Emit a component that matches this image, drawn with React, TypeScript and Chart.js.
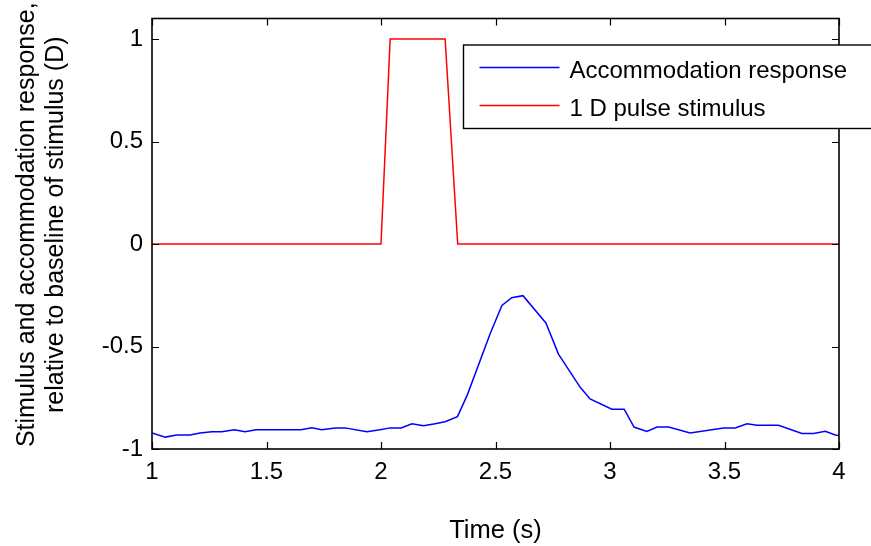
import React, { useEffect, useRef } from 'react';
import { Chart, registerables } from 'chart.js';

Chart.register(...registerables);

const FONT = '"Liberation Sans", Arial, Helvetica, sans-serif';

// Accommodation response (time in s, value in D)
const responseTime = [
  1.0, 1.058, 1.108, 1.166, 1.21, 1.261, 1.305, 1.36, 1.406, 1.454,
  1.65, 1.698, 1.741, 1.8, 1.843, 1.938, 1.996, 2.04, 2.088, 2.135,
  2.186, 2.236, 2.28, 2.334, 2.377, 2.477, 2.528, 2.571, 2.62, 2.72,
  2.775, 2.87, 2.913, 3.008, 3.062, 3.105, 3.161, 3.205, 3.256, 3.35,
  3.496, 3.547, 3.598, 3.642, 3.736, 3.838, 3.889, 3.94, 3.984, 4.0,
];
const responseValue = [
  -0.922, -0.942, -0.932, -0.932, -0.922, -0.916, -0.916, -0.906, -0.916, -0.906,
  -0.906, -0.897, -0.906, -0.897, -0.897, -0.916, -0.906, -0.897, -0.897, -0.877,
  -0.887, -0.877, -0.867, -0.842, -0.736, -0.437, -0.3, -0.262, -0.252, -0.385,
  -0.537, -0.699, -0.756, -0.806, -0.806, -0.893, -0.914, -0.893, -0.893, -0.922,
  -0.897, -0.897, -0.877, -0.884, -0.884, -0.924, -0.924, -0.914, -0.932, -0.934,
];

// 1 D pulse stimulus
const stimulusTime = [1.0, 2.0, 2.04, 2.28, 2.335, 4.0];
const stimulusValue = [0, 0, 1, 1, 0, 0];

const xTicks = [1, 1.5, 2, 2.5, 3, 3.5, 4];
const yTicks = [-1, -0.5, 0, 0.5, 1];
const seriesLabels = ['Accommodation response', '1 D pulse stimulus'];
const seriesColors = ['#0000ff', '#ff0000'];
const xTitle = 'Time (s)';
const yTitle = ['Stimulus and accommodation response,', 'relative to baseline of stimulus (D)'];

const framePlugin = {
  id: 'matlabFrame',
  afterDatasetsDraw(chart: any) {
    const { ctx, chartArea: a, scales } = chart;
    ctx.save();
    ctx.strokeStyle = '#000';
    ctx.lineWidth = 1.2;
    const L = 7;
    ctx.beginPath();
    for (const v of xTicks) {
      const px = Math.round(scales.x.getPixelForValue(v)) + 0.5;
      ctx.moveTo(px, a.bottom);
      ctx.lineTo(px, a.bottom - L);
      ctx.moveTo(px, a.top);
      ctx.lineTo(px, a.top + L);
    }
    for (const v of yTicks) {
      const py = Math.round(scales.y.getPixelForValue(v)) + 0.5;
      ctx.moveTo(a.left, py);
      ctx.lineTo(a.left + L, py);
      ctx.moveTo(a.right, py);
      ctx.lineTo(a.right - L, py);
    }
    ctx.stroke();
    ctx.lineWidth = 1.6;
    ctx.strokeRect(a.left, a.top, a.right - a.left, a.bottom - a.top);

    // legend
    const bx = a.left + 311.5;
    const by = a.top + 26.5;
    const bw = 420;
    const bh = 83.5;
    ctx.fillStyle = '#fff';
    ctx.fillRect(bx, by, bw, bh);
    ctx.lineWidth = 1.4;
    ctx.strokeRect(bx, by, bw, bh);
    ctx.font = `24px ${FONT}`;
    ctx.textAlign = 'left';
    ctx.textBaseline = 'alphabetic';
    seriesLabels.forEach((lab, i) => {
      const ly = by + 22.5 + i * 38;
      ctx.strokeStyle = seriesColors[i];
      ctx.lineWidth = 1.4;
      ctx.beginPath();
      ctx.moveTo(bx + 16, ly);
      ctx.lineTo(bx + 96, ly);
      ctx.stroke();
      ctx.fillStyle = '#000';
      ctx.fillText(lab, bx + 106, ly + 10);
    });

    // y-axis title (two rotated lines)
    ctx.font = `25px ${FONT}`;
    ctx.fillStyle = '#000';
    ctx.textAlign = 'center';
    ctx.textBaseline = 'middle';
    const cy = (a.top + a.bottom) / 2 - 9;
    yTitle.forEach((line, i) => {
      ctx.save();
      ctx.translate(27 + i * 29, cy);
      ctx.rotate(-Math.PI / 2);
      ctx.fillText(line, 0, 0);
      ctx.restore();
    });
    ctx.restore();
  },
};

export default function App() {
  const ref = useRef<HTMLCanvasElement | null>(null);

  useEffect(() => {
    if (!ref.current) return;
    const chart = new Chart(ref.current, {
      type: 'line',
      data: {
        datasets: [
          {
            label: seriesLabels[0],
            data: responseTime.map((t, i) => ({ x: t, y: responseValue[i] })),
            borderColor: seriesColors[0],
            borderWidth: 1.5,
            pointRadius: 0,
            tension: 0,
            fill: false,
          },
          {
            label: seriesLabels[1],
            data: stimulusTime.map((t, i) => ({ x: t, y: stimulusValue[i] })),
            borderColor: seriesColors[1],
            borderWidth: 1.5,
            pointRadius: 0,
            tension: 0,
            fill: false,
          },
        ],
      },
      options: {
        responsive: false,
        animation: false,
        devicePixelRatio: 1,
        layout: { padding: { top: 18.5, right: 32, bottom: 0, left: 0 } },
        plugins: {
          legend: { display: false },
          tooltip: { enabled: false },
        },
        scales: {
          x: {
            type: 'linear',
            min: 1,
            max: 4,
            grid: { display: false, drawTicks: false },
            border: { display: false },
            afterBuildTicks: (s: any) => {
              s.ticks = xTicks.map((v) => ({ value: v }));
            },
            afterFit: (s: any) => {
              s.height = 97;
              s.paddingLeft = 0;
              s.paddingRight = 0;
            },
            ticks: {
              autoSkip: false,
              maxRotation: 0,
              padding: 9,
              color: '#000',
              font: { family: FONT, size: 24 },
              callback: (v: any) => String(v),
            },
            title: {
              display: true,
              text: xTitle,
              color: '#000',
              font: { family: FONT, size: 25.5, lineHeight: 1.2 },
              padding: { top: 0, bottom: 0 },
            },
          },
          y: {
            type: 'linear',
            min: -1,
            max: 1.1,
            grid: { display: false, drawTicks: false },
            border: { display: false },
            afterBuildTicks: (s: any) => {
              s.ticks = yTicks.map((v) => ({ value: v }));
            },
            afterFit: (s: any) => {
              s.width = 152;
              s.paddingTop = 0;
              s.paddingBottom = 0;
            },
            ticks: {
              autoSkip: false,
              padding: 9,
              color: '#000',
              font: { family: FONT, size: 24 },
              callback: (v: any) => String(v),
            },
            title: { display: false },
          },
        },
      },
      plugins: [framePlugin],
    });
    return () => chart.destroy();
  }, []);

  return (
    <div style={{ position: 'fixed', left: 0, top: 0, width: 871, height: 546, background: '#fff' }}>
      <canvas ref={ref} width={871} height={546} style={{ width: 871, height: 546, display: 'block' }} />
    </div>
  );
}
